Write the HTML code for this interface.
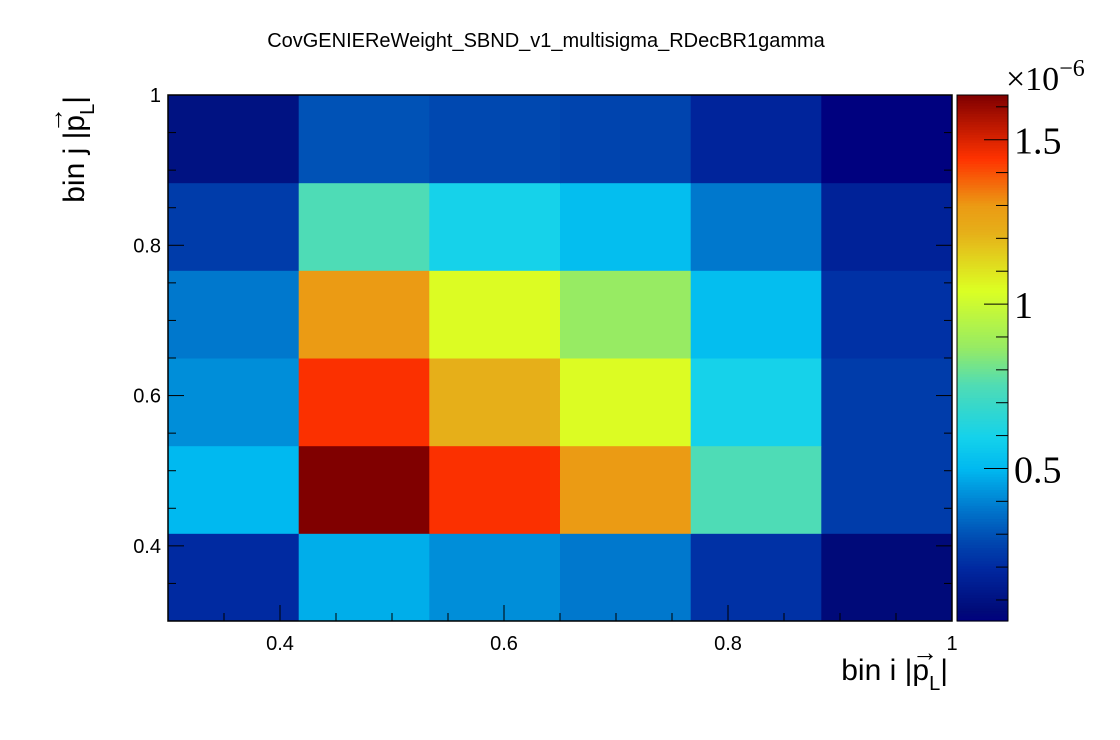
<!DOCTYPE html>
<html><head><meta charset="utf-8"><style>
body{margin:0;background:#fff;}
svg{display:block;font-family:"Liberation Sans",sans-serif;}
</style></head><body>
<svg id="c" width="1120" height="740">
<text x="546" y="47" font-size="20" text-anchor="middle">CovGENIEReWeight_SBND_v1_multisigma_RDecBR1gamma</text>
</svg>
<script>
// values in units of 1e-6; rows listed from bottom (j=0) to top
const xEdges=[0.3,0.4167,0.5333,0.65,0.7667,0.8833,1.0];
const yEdges=[0.3,0.4167,0.5333,0.65,0.7667,0.8833,1.0];
const row0=[0.20,0.48,0.42,0.38,0.22,0.07];
const row1=[0.50,1.636,1.45,1.30,0.75,0.25];
const row2=[0.42,1.45,1.22,1.05,0.60,0.25];
const row3=[0.38,1.30,1.05,0.87,0.52,0.22];
const row4=[0.25,0.75,0.60,0.52,0.38,0.17];
const row5=[0.10,0.30,0.28,0.27,0.18,0.04];
const rows=[row0,row1,row2,row3,row4,row5];
const xTicks=[0.4,0.6,0.8,1.0];
const xTickLabels=["0.4","0.6","0.8","1"];
const yTicks=[0.4,0.6,0.8,1.0];
const yTickLabels=["0.4","0.6","0.8","1"];
const zTicks=[0.5,1.0,1.5];
const zTickLabels=["0.5","1","1.5"];
const zMin=0.036, zMax=1.636;

const NS="http://www.w3.org/2000/svg";
const svg=document.getElementById('c');
const X0=168,X1=952,Y0=621,Y1=95;
const xs=v=>X0+(v-0.3)/0.7*(X1-X0);
const ys=v=>Y0-(v-0.3)/0.7*(Y0-Y1);
const zs=v=>Y0-(v-zMin)/(zMax-zMin)*(Y0-Y1);
function mk(t,a){const e=document.createElementNS(NS,t);for(const k in a)e.setAttribute(k,a[k]);svg.appendChild(e);return e;}
const stops=[[0,[0,0,128]],[0.02,[0,10,120]],[0.1,[0,40,160]],[0.15,[0,70,175]],[0.215,[0,120,205]],[0.29,[0,185,240]],[0.35,[20,210,235]],[0.45,[80,220,180]],[0.52,[150,235,100]],[0.63,[220,255,35]],[0.74,[230,175,25]],[0.79,[235,155,20]],[0.88,[255,50,0]],[1,[128,0,0]]];
function col(v){let t=Math.max(0,Math.min(1,(v-zMin)/(zMax-zMin)));
 for(let i=1;i<stops.length;i++){if(t<=stops[i][0]){const a=stops[i-1],b=stops[i];const f=(t-a[0])/(b[0]-a[0]);
 const c=a[1].map((x,k)=>Math.round(x+(b[1][k]-x)*f));return `rgb(${c})`;}}return 'rgb(128,0,0)';}
rows.forEach((r,j)=>r.forEach((v,i)=>{
 const e=mk('rect',{x:xs(xEdges[i]),y:ys(yEdges[j+1]),width:xs(xEdges[i+1])-xs(xEdges[i])+0.5,height:ys(yEdges[j])-ys(yEdges[j+1])+0.5,fill:col(v)});
 
 
}));
const fr=mk('rect',{x:X0,y:Y1,width:X1-X0,height:Y0-Y1,fill:'none',stroke:'#000','stroke-width':1.5});


for(let k=0;k<=14;k++){const v=0.3+k*0.05;const maj=Math.abs((v*10)%2)<0.01||Math.abs((v*10)%2-2)<0.01;const L=maj?16:8;
 const x=xs(v);mk('line',{x1:x,x2:x,y1:Y0,y2:Y0-L,stroke:'#000'});
 const y=ys(v);mk('line',{x1:X0,x2:X0+L,y1:y,y2:y,stroke:'#000'});mk('line',{x1:X1,x2:X1-L,y1:y,y2:y,stroke:'#000'});}
xTicks.forEach((v,i)=>{const t=mk('text',{x:xs(v),y:650,'font-size':20,'text-anchor':'middle'});t.textContent=xTickLabels[i];
 
 });
yTicks.forEach((v,i)=>{const t=mk('text',{x:161,y:ys(v)+7,'font-size':20,'text-anchor':'end'});t.textContent=yTickLabels[i];
 
 });
const xt=mk('text',{x:948,y:680,'font-size':30,'text-anchor':'end'});xt.innerHTML='bin i |<tspan>p</tspan><tspan font-size="20" dy="10">L</tspan><tspan dy="-10">|</tspan>';


mk('text',{x:912,y:661,'font-size':26}).textContent='\u2192';
const yt=mk('text',{x:0,y:0,'font-size':30,'text-anchor':'end',transform:'translate(84,96) rotate(-90)'});yt.innerHTML='bin j |p<tspan font-size="20" dy="10">L</tspan><tspan dy="-10">|</tspan>';


mk('text',{x:0,y:0,'font-size':26,transform:'translate(63,133) rotate(-90)'}).textContent='\u2192';
const CB0=957,CB1=1008;
for(let k=0;k<200;k++){const v0=zMin+(zMax-zMin)*k/200,v1=zMin+(zMax-zMin)*(k+1)/200;
 mk('rect',{x:CB0,y:zs(v1),width:CB1-CB0,height:zs(v0)-zs(v1)+0.6,fill:col((v0+v1)/2)});}
const cb=mk('rect',{x:CB0,y:Y1,width:CB1-CB0,height:Y0-Y1,fill:'none',stroke:'#000','stroke-width':1});


for(let v=0.1;v<zMax;v+=0.1){const y=zs(v);const maj=Math.abs(v*2-Math.round(v*2))<0.01;mk('line',{x1:CB1-(maj?24:12),x2:CB1,y1:y,y2:y,stroke:'#000'});}
zTicks.forEach((v,i)=>{const t=mk('text',{x:1014,y:zs(v)+14,'font-size':38,'font-family':'Liberation Serif, serif'});t.textContent=zTickLabels[i];
 
 });
const ex=mk('text',{x:1006,y:90,'font-size':34,'font-family':'Liberation Serif, serif'});ex.innerHTML='\u00d710<tspan font-size="24" dy="-14">\u22126</tspan>';


</script>
</body></html>
